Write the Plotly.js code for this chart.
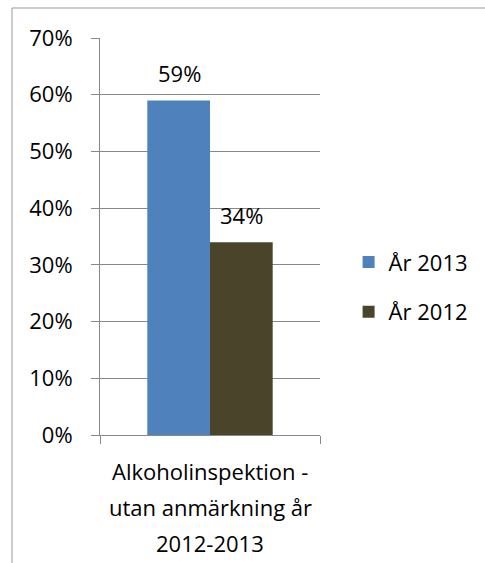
<!DOCTYPE html>
<html><head><meta charset="utf-8">
<script src="https://cdn.plot.ly/plotly-3.0.1.min.js"></script>
<style>html,body{margin:0;padding:0;background:#fff}#c{width:485px;height:563px}</style>
</head><body><div id="c"></div>
<script>
const categories = ["Alkoholinspektion -<br>utan anmärkning år<br>2012-2013"];
const categoryLines = ["Alkoholinspektion -", "utan anmärkning år", "2012-2013"];
const seriesNames = ["År 2013", "År 2012"];
const values2013 = [0.59];
const values2012 = [0.34];
const colors = ["#4F81BD", "#4A452A"];
const yTicks = [0, 0.1, 0.2, 0.3, 0.4, 0.5, 0.6, 0.7];
const yTickLabels = ["0%", "10%", "20%", "30%", "40%", "50%", "60%", "70%"];

const FONT = "Open Sans, Noto Sans, sans-serif";
const FS = 22;
const series = [values2013, values2012];
const traces = series.map((v, i) => ({
  type: "bar", x: categories, y: v, name: seriesNames[i],
  marker: {color: colors[i]}, legendgroup: "g" + i,
  hoverinfo: "none"
}));

const annotations = [];
series.forEach((v, i) => {
  v.forEach((val, j) => {
    annotations.push({
      x: categories[j], y: val, xref: "x", yref: "y",
      text: Math.round(val * 100) + "%", showarrow: false,
      xshift: (i === 0 ? -31 : 31), yshift: 27,
      font: {family: FONT, size: FS, color: "#000"}
    });
  });
});
categoryLines.forEach((t, k) => {
  annotations.push({
    x: categories[0], y: 0, xref: "x", yref: "paper",
    text: t, showarrow: false, yanchor: "middle",
    yshift: -36 - 36 * k,
    font: {family: FONT, size: FS, color: "#000"}
  });
});

const layout = {
  width: 485, height: 563,
  margin: {l: 100, r: 165, t: 38, b: 128, pad: 0},
  paper_bgcolor: "#fff", plot_bgcolor: "#fff",
  bargap: 0.43, bargroupgap: 0,
  showlegend: true,
  legend: {x: 1.13, y: 0.372, xanchor: "left", yanchor: "middle",
    font: {family: FONT, size: FS, color: "#000"},
    tracegroupgap: 18, itemwidth: 30, traceorder: "grouped"},
  xaxis: {type: "category", showticklabels: false, ticks: "outside", tickson: "boundaries",
    ticklen: 8, tickcolor: "#888", showline: true, linecolor: "#888", linewidth: 1,
    showgrid: false, fixedrange: true},
  yaxis: {range: [0, 0.7], tickvals: yTicks, ticktext: yTickLabels, ticks: "outside",
    ticklen: 8, tickcolor: "#888", showline: true, linecolor: "#888", linewidth: 1,
    showgrid: true, gridcolor: "#888", gridwidth: 1, zeroline: false,
    tickfont: {family: FONT, size: FS, color: "#000"}, ticklabelstandoff: 14},
  annotations: annotations,
  shapes: [{type: "rect", xref: "paper", yref: "paper",
    x0: -0.4, x1: 1.9, y0: -0.5, y1: 1.0756, layer: "below",
    line: {color: "#999", width: 1}, fillcolor: "rgba(0,0,0,0)"}]
};
Plotly.newPlot("c", traces, layout, {staticPlot: true});
</script></body></html>
